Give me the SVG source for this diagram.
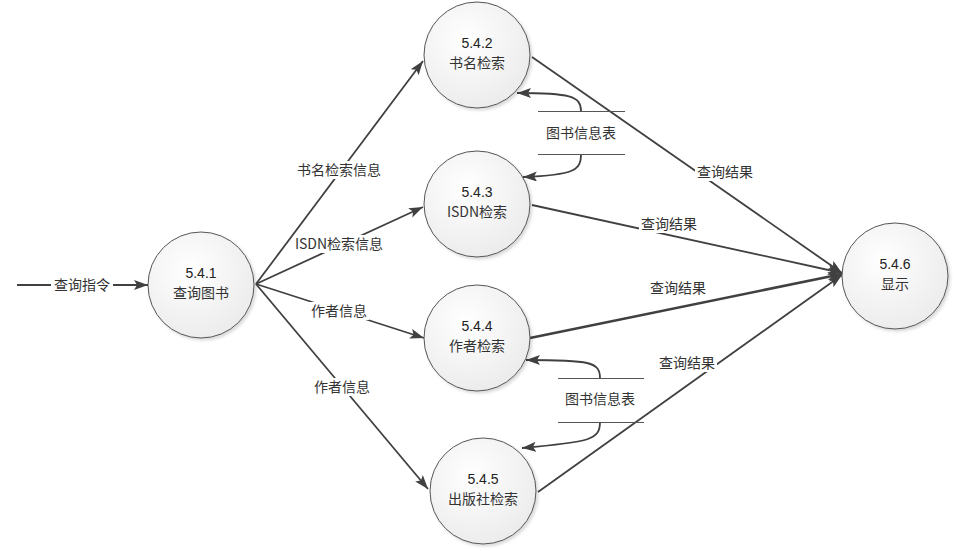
<svg xmlns="http://www.w3.org/2000/svg" width="955" height="551" viewBox="0 0 955 551">
<style>
.node circle{fill:url(#g);stroke:#555;stroke-width:1;filter:url(#sh)}
.num{font-family:"Liberation Sans","Noto Sans CJK SC",sans-serif;font-size:14px;fill:#222;text-anchor:middle}
.t{font-family:"Noto Sans CJK SC","Liberation Sans",sans-serif;font-size:14px;fill:#333;text-anchor:middle}
.lbl{font-family:"Noto Sans CJK SC","Liberation Sans",sans-serif;font-size:14px;fill:#333;text-anchor:middle}
.bg{fill:#fff}
.c{stroke:#404040;stroke-width:1.8;fill:none;marker-end:url(#a)}
.store{stroke:#555;stroke-width:1.2}
</style>
<defs>
<radialGradient id="g" cx="0.4" cy="0.35" r="0.7">
<stop offset="0" stop-color="#ffffff"/>
<stop offset="1" stop-color="#ebebeb"/>
</radialGradient>
<filter id="sh" x="-20%" y="-20%" width="150%" height="150%">
<feDropShadow dx="2" dy="2" stdDeviation="1.5" flood-color="#000" flood-opacity="0.15"/>
</filter>
<marker id="a" markerUnits="userSpaceOnUse" markerWidth="15" markerHeight="11" refX="14" refY="5" orient="auto">
<path d="M0,0 L14,5 L0,10 L3,5 z" fill="#404040"/>
</marker>
</defs>
<rect width="955" height="551" fill="#fff"/>
<g id="connectors">
<line class="c" x1="17" y1="285" x2="148" y2="285"/>
<line class="c" x1="256" y1="284" x2="423" y2="61"/>
<line class="c" x1="256" y1="284" x2="423" y2="207"/>
<line class="c" x1="256" y1="284" x2="424" y2="338"/>
<line class="c" x1="256" y1="284" x2="428" y2="489"/>
<line class="c" x1="532" y1="57" x2="842" y2="273"/>
<line class="c" x1="532" y1="205" x2="842" y2="273"/>
<line class="c" x1="530" y1="338" x2="842" y2="274" style="stroke-width:2.6"/>
<line class="c" x1="538" y1="492" x2="842" y2="275"/>
<path class="c" d="M581,111 C581,96 570,93 517,93"/>
<path class="c" d="M581,154 C581,170 575,175 523,177"/>
<path class="c" d="M600,378 C600,362 590,360 526,360"/>
<path class="c" d="M600,422 C600,440 590,442 522,448"/>
<rect class="bg" x="51" y="276" width="62" height="18"/>
<text class="lbl" x="82" y="290">查询指令</text>
<rect class="bg" x="296" y="161" width="86" height="18"/>
<text class="lbl" x="339" y="175">书名检索信息</text>
<rect class="bg" x="294" y="235" width="90" height="18"/>
<text class="lbl" x="339" y="249">ISDN检索信息</text>
<rect class="bg" x="309" y="302" width="60" height="18"/>
<text class="lbl" x="339" y="316">作者信息</text>
<rect class="bg" x="312" y="378" width="60" height="18"/>
<text class="lbl" x="342" y="392">作者信息</text>
<rect class="bg" x="695" y="163" width="60" height="18"/>
<text class="lbl" x="725" y="177">查询结果</text>
<rect class="bg" x="639" y="215" width="60" height="18"/>
<text class="lbl" x="669" y="229">查询结果</text>
<rect class="bg" x="648" y="279" width="60" height="18"/>
<text class="lbl" x="678" y="293">查询结果</text>
<rect class="bg" x="657" y="354" width="60" height="18"/>
<text class="lbl" x="687" y="368">查询结果</text>
</g>
<g id="store1">
<line class="store" x1="538" y1="111.5" x2="625" y2="111.5"/>
<line class="store" x1="538" y1="154.5" x2="625" y2="154.5"/>
<text class="lbl" x="581" y="138">图书信息表</text>
</g>
<g id="store2">
<line class="store" x1="558" y1="378.5" x2="644" y2="378.5"/>
<line class="store" x1="558" y1="422.5" x2="644" y2="422.5"/>
<rect class="bg" x="562" y="392" width="74" height="18"/>
<text class="lbl" x="600" y="404">图书信息表</text>
</g>
<g id="n541" class="node"><circle cx="201" cy="285" r="53"/><text class="num" x="201" y="278">5.4.1</text><text class="t" x="201" y="298">查询图书</text></g>
<g id="n542" class="node"><circle cx="477" cy="55" r="53"/><text class="num" x="477" y="48">5.4.2</text><text class="t" x="477" y="68">书名检索</text></g>
<g id="n543" class="node"><circle cx="477" cy="204" r="53"/><text class="num" x="477" y="197">5.4.3</text><text class="t" x="477" y="217">ISDN检索</text></g>
<g id="n544" class="node"><circle cx="477" cy="338" r="53"/><text class="num" x="477" y="331">5.4.4</text><text class="t" x="477" y="351">作者检索</text></g>
<g id="n545" class="node"><circle cx="483" cy="491" r="53"/><text class="num" x="483" y="484">5.4.5</text><text class="t" x="483" y="504">出版社检索</text></g>
<g id="n546" class="node"><circle cx="895" cy="276" r="53"/><text class="num" x="895" y="269">5.4.6</text><text class="t" x="895" y="289">显示</text></g>
</svg>
